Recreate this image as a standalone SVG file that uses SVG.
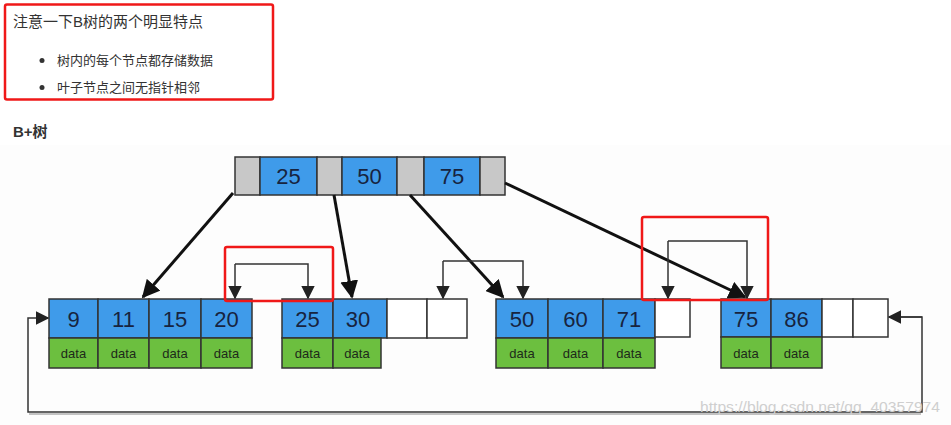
<svg xmlns="http://www.w3.org/2000/svg" width="951" height="425" viewBox="0 0 951 425">
<defs>
<style>
.txt{font-family:"Liberation Sans","Noto Sans CJK SC",sans-serif;fill:#333}
.k{fill:#3f9bea;stroke:#333;stroke-width:1.5}
.g{fill:#c8c8c8;stroke:#333;stroke-width:1.5}
.e{fill:#ffffff;stroke:#333;stroke-width:1.5}
.d{fill:#6cbf3f;stroke:#333;stroke-width:1.5}
.kt{font-family:"Liberation Sans",sans-serif;font-size:22px;fill:#17243f;text-anchor:middle}
.dt{font-family:"Liberation Sans",sans-serif;font-size:13px;fill:#1d2a1a;text-anchor:middle}
.big{fill:none;stroke:#111;stroke-width:3}
.thin{fill:none;stroke:#333;stroke-width:1.5}
.red{fill:none;stroke:#f01818;stroke-width:2.5}
</style>
<marker id="ah" viewBox="0 0 10 10" refX="9" refY="5" markerWidth="6" markerHeight="6" markerUnits="strokeWidth" orient="auto"><path d="M0,0 L10,5 L0,10 z" fill="#111"/></marker>
<marker id="as" viewBox="0 0 10 10" refX="9" refY="5" markerWidth="9" markerHeight="9" markerUnits="strokeWidth" orient="auto"><path d="M0,0 L10,5 L0,10 z" fill="#222"/></marker>
</defs>
<rect x="0" y="0" width="951" height="425" fill="#ffffff"/>
<rect x="0" y="145" width="951" height="280" fill="#fdfdfd"/>

<g id="note">
<rect class="red" x="5" y="4.5" width="268" height="95" rx="2"/>
<text class="txt" x="13" y="27" font-size="15">注意一下B树的两个明显特点</text>
<circle cx="42" cy="60.5" r="2.5" fill="#333"/>
<text class="txt" x="57" y="65" font-size="13">树内的每个节点都存储数据</text>
<circle cx="42" cy="87.5" r="2.5" fill="#333"/>
<text class="txt" x="57" y="92" font-size="13">叶子节点之间无指针相邻</text>
</g>
<text class="txt" x="13" y="137" font-size="15" font-weight="bold">B+树</text>

<g id="root">
<rect class="g" x="235" y="157" width="25" height="38"/>
<rect class="k" x="260" y="157" width="57" height="38"/>
<rect class="g" x="317" y="157" width="25" height="38"/>
<rect class="k" x="342" y="157" width="55" height="38"/>
<rect class="g" x="397" y="157" width="27" height="38"/>
<rect class="k" x="424" y="157" width="56" height="38"/>
<rect class="g" x="480" y="157" width="25" height="38"/>
<text class="kt" x="288.5" y="184">25</text>
<text class="kt" x="369.5" y="184">50</text>
<text class="kt" x="452" y="184">75</text>
</g>

<g id="leaf1">
<rect class="k" x="49" y="299" width="49" height="39"/>
<rect class="k" x="98" y="299" width="51" height="39"/>
<rect class="k" x="149" y="299" width="52" height="39"/>
<rect class="k" x="201" y="299" width="51" height="39"/>
<rect class="d" x="49" y="338" width="49" height="30"/>
<rect class="d" x="98" y="338" width="51" height="30"/>
<rect class="d" x="149" y="338" width="52" height="30"/>
<rect class="d" x="201" y="338" width="51" height="30"/>
<text class="kt" x="73.5" y="327">9</text>
<text class="kt" x="123.5" y="327">11</text>
<text class="kt" x="175" y="327">15</text>
<text class="kt" x="226.5" y="327">20</text>
<text class="dt" x="73.5" y="358">data</text>
<text class="dt" x="123.5" y="358">data</text>
<text class="dt" x="175" y="358">data</text>
<text class="dt" x="226.5" y="358">data</text>
</g>

<g id="leaf2">
<rect class="k" x="282" y="299" width="51" height="39"/>
<rect class="k" x="333" y="299" width="54" height="39"/>
<rect class="e" x="387" y="299" width="40" height="39"/>
<rect class="e" x="427" y="299" width="40" height="39"/>
<rect class="d" x="282" y="338" width="51" height="30"/>
<rect class="d" x="333" y="338" width="48" height="30"/>
<text class="kt" x="307.5" y="327">25</text>
<text class="kt" x="358" y="327">30</text>
<text class="dt" x="307.5" y="358">data</text>
<text class="dt" x="357" y="358">data</text>
</g>

<g id="leaf3">
<rect class="k" x="496" y="299" width="52" height="39"/>
<rect class="k" x="548" y="299" width="55" height="39"/>
<rect class="k" x="603" y="299" width="52" height="39"/>
<rect class="e" x="655" y="299" width="35" height="38"/>
<rect class="d" x="496" y="338" width="52" height="30"/>
<rect class="d" x="548" y="338" width="55" height="30"/>
<rect class="d" x="603" y="338" width="52" height="30"/>
<text class="kt" x="522" y="327">50</text>
<text class="kt" x="575.5" y="327">60</text>
<text class="kt" x="629" y="327">71</text>
<text class="dt" x="522" y="358">data</text>
<text class="dt" x="575.5" y="358">data</text>
<text class="dt" x="629" y="358">data</text>
</g>

<g id="leaf4">
<rect class="k" x="721" y="299" width="50" height="38"/>
<rect class="k" x="771" y="299" width="51" height="38"/>
<rect class="e" x="822" y="299" width="31" height="38"/>
<rect class="e" x="853" y="299" width="35" height="38"/>
<rect class="d" x="721" y="337" width="50" height="31"/>
<rect class="d" x="771" y="337" width="51" height="31"/>
<text class="kt" x="746" y="327">75</text>
<text class="kt" x="796.5" y="327">86</text>
<text class="dt" x="746" y="358">data</text>
<text class="dt" x="796.5" y="358">data</text>
</g>

<g id="connectors">
<path class="big" d="M233,193 L143,297" marker-end="url(#ah)"/>
<path class="big" d="M334,195 L352,297" marker-end="url(#ah)"/>
<path class="big" d="M410,195 L503,297" marker-end="url(#ah)"/>
<path class="big" d="M505,183 L745,297" marker-end="url(#ah)"/>
<path class="thin" d="M235,264 L308,264 L308,298" marker-end="url(#as)"/>
<path class="thin" d="M235,264 L235,298" marker-end="url(#as)"/>
<path class="thin" d="M443,261 L523,261 L523,298" marker-end="url(#as)"/>
<path class="thin" d="M443,261 L443,298" marker-end="url(#as)"/>
<path class="thin" d="M668,241 L747,241 L747,298" marker-end="url(#as)"/>
<path class="thin" d="M668,241 L668,298" marker-end="url(#as)"/>
<path class="thin" d="M889,317 L922,317 L922,412 L28,412 L28,318 L48,318" marker-end="url(#as)"/>
<path class="thin" d="M922,317 L889,317" marker-end="url(#as)"/>
<path fill="none" stroke="#888" stroke-width="1" d="M29,414 L921,414"/>
</g>

<rect class="red" x="225" y="247" width="108" height="54" rx="2"/>
<rect class="red" x="642" y="217" width="126" height="83" rx="2"/>

<text x="940" y="412" text-anchor="end" font-family="Liberation Sans Narrow,Liberation Sans,sans-serif" font-size="14" fill="#cfcfcf" textLength="240" lengthAdjust="spacingAndGlyphs">https://blog.csdn.net/qq_40357974</text>
</svg>
